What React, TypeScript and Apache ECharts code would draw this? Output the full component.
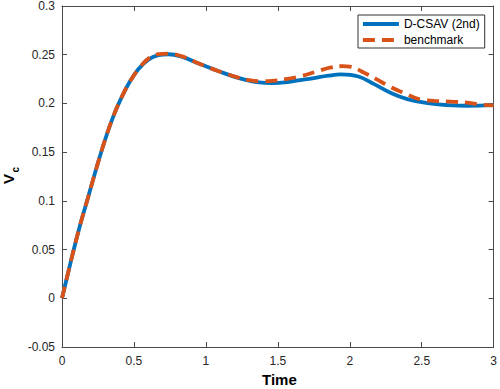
import React, { useEffect, useRef } from "react";
import * as echarts from "echarts";

const xTicks = [0, 0.5, 1, 1.5, 2, 2.5, 3];
const yTicks = [-0.05, 0, 0.05, 0.1, 0.15, 0.2, 0.25, 0.3];

const seriesNames = ["D-CSAV (2nd)", "benchmark"];

const dcsavT = [0, 0.07, 0.12, 0.18, 0.24, 0.3, 0.36, 0.42, 0.47, 0.53, 0.6, 0.67, 0.74, 0.84, 0.95, 1.09, 1.23, 1.37, 1.46, 1.58, 1.74, 1.85, 1.94, 2.06, 2.17, 2.29, 2.4, 2.54, 2.68, 2.82, 3.0];
const dcsavV = [0, 0.043, 0.072, 0.103, 0.134, 0.163, 0.188, 0.208, 0.222, 0.235, 0.245, 0.2495, 0.2505, 0.2475, 0.241, 0.233, 0.226, 0.2215, 0.2208, 0.2222, 0.2258, 0.2285, 0.2298, 0.2276, 0.2198, 0.2105, 0.2045, 0.2003, 0.1983, 0.1976, 0.1982];

const benchT = [0, 0.07, 0.12, 0.18, 0.24, 0.3, 0.36, 0.42, 0.47, 0.53, 0.6, 0.67, 0.74, 0.84, 0.95, 1.09, 1.23, 1.3, 1.38, 1.46, 1.55, 1.67, 1.76, 1.87, 1.95, 2.0, 2.1, 2.18, 2.29, 2.37, 2.5, 2.59, 2.73, 2.8, 2.93, 3.0];
const benchV = [0, 0.043, 0.072, 0.103, 0.134, 0.163, 0.188, 0.208, 0.222, 0.235, 0.246, 0.2505, 0.2512, 0.248, 0.241, 0.233, 0.2263, 0.2238, 0.2228, 0.2231, 0.2249, 0.2283, 0.2323, 0.237, 0.2382, 0.2378, 0.2315, 0.2253, 0.2163, 0.2112, 0.2037, 0.2027, 0.2016, 0.201, 0.1985, 0.198];

const zip = (a: number[], b: number[]) => a.map((t, i) => [t, b[i]]);

const FONT = "'Liberation Sans', Arial, Helvetica, sans-serif";
const AXIS_COLOR = "#4a4a4a";
const LABEL_COLOR = "#262626";

const fmt = (v: number) => String(Math.round(v * 1000) / 1000);

export default function App() {
  const ref = useRef<HTMLDivElement>(null);
  useEffect(() => {
    if (!ref.current) return;
    const chart = echarts.init(ref.current, undefined, { renderer: "svg" });
    const common = {
      type: "value" as const,
      splitLine: { show: false },
      axisLine: { show: true, onZero: false, lineStyle: { color: AXIS_COLOR, width: 1 } },
      axisTick: { show: true, inside: true, length: 5, lineStyle: { color: AXIS_COLOR } },
    };
    chart.setOption({
      animation: false,
      backgroundColor: "#ffffff",
      grid: { left: 62, right: 4, top: 5, bottom: 42, containLabel: false },
      xAxis: [
        {
          ...common,
          position: "bottom",
          min: xTicks[0],
          max: xTicks[xTicks.length - 1],
          interval: 0.5,
          axisLabel: { show: true, margin: 8, color: LABEL_COLOR, fontSize: 12, fontFamily: FONT, formatter: fmt },
        },
        {
          ...common,
          position: "top",
          min: xTicks[0],
          max: xTicks[xTicks.length - 1],
          interval: 0.5,
          axisLabel: { show: false },
        },
      ],
      yAxis: [
        {
          ...common,
          position: "left",
          min: yTicks[0],
          max: yTicks[yTicks.length - 1],
          interval: 0.05,
          axisLabel: { show: true, margin: 7, color: LABEL_COLOR, fontSize: 12, fontFamily: FONT, formatter: fmt },
        },
        {
          ...common,
          position: "right",
          min: yTicks[0],
          max: yTicks[yTicks.length - 1],
          interval: 0.05,
          axisLabel: { show: false },
        },
      ],
      legend: {
        show: true,
        orient: "vertical",
        left: 358,
        top: 15,
        padding: [3, 5, 2, 3],
        itemGap: 4,
        itemWidth: 36,
        itemHeight: 14,
        backgroundColor: "#ffffff",
        borderColor: "#333333",
        borderWidth: 1,
        borderRadius: 0,
        itemStyle: { opacity: 0, borderWidth: 0 },
        lineStyle: { width: 3.8 },
        textStyle: { color: "#000000", fontSize: 12, fontFamily: FONT },
        data: seriesNames,
      },
      series: [
        {
          name: seriesNames[0],
          type: "line",
          data: zip(dcsavT, dcsavV),
          smooth: 0.4,
          symbol: "none",
          lineStyle: { color: "#0072BD", width: 3.8 },
          itemStyle: { color: "#0072BD" },
          z: 2,
        },
        {
          name: seriesNames[1],
          type: "line",
          data: zip(benchT, benchV),
          smooth: 0.4,
          symbol: "none",
          lineStyle: { color: "#D95319", width: 3.8, type: [12, 7] },
          itemStyle: { color: "#D95319" },
          z: 3,
        },
      ],
      graphic: [
        {
          type: "text",
          left: 262,
          top: 372,
          style: { text: "Time", font: `bold 15px ${FONT}`, fill: "#000000" },
        },
        {
          type: "group",
          x: 2,
          y: 185,
          rotation: Math.PI / 2,
          children: [
            {
              type: "text",
              x: 1,
              y: -1,
              style: { text: "V", font: `bold 15px ${FONT}`, fill: "#000000", textAlign: "left", textVerticalAlign: "top" },
            },
            {
              type: "text",
              x: 12.5,
              y: 8,
              style: { text: "c", font: `bold 10px ${FONT}`, fill: "#000000", textAlign: "left", textVerticalAlign: "top" },
            },
          ],
        },
      ],
    });
    return () => chart.dispose();
  }, []);
  return <div ref={ref} style={{ position: "fixed", left: 0, top: 0, width: 500, height: 389 }} />;
}
